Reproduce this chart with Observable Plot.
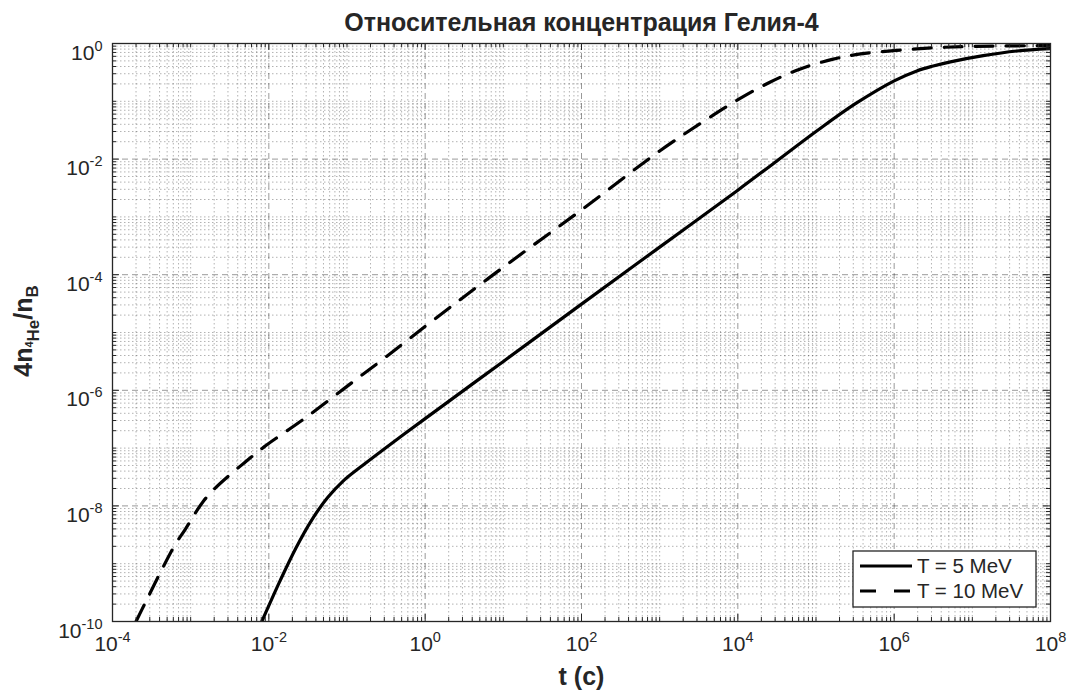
<!DOCTYPE html>
<html><head><meta charset="utf-8">
<script src="https://cdn.jsdelivr.net/npm/d3@7"></script>
<script src="https://cdn.jsdelivr.net/npm/@observablehq/plot@0.6"></script>
<style>
body{margin:0;background:#fff;}
#chart svg{font-family:"Liberation Sans",Arial,Helvetica,sans-serif;}
</style>
</head><body><div id="chart"></div>
<script>
// ---- data ----
const titleText = "Относительная концентрация Гелия-4";
const xLabelText = "t (c)";
const seriesNames = ["T = 5 MeV", "T = 10 MeV"];

// T = 5 MeV (solid)
const t5 = [8.13e-3, 1.41e-2, 2.24e-2, 3.55e-2, 5.62e-2, 8.91e-2, 0.158, 0.398, 1, 10, 100, 1000, 1e4, 3.16e4, 1e5, 3.16e5, 1e6, 1.95e6, 3.16e6, 5.25e6, 1.38e7, 3.72e7, 1e8];
const y5 = [1.0e-10, 5.25e-10, 1.91e-9, 5.75e-9, 1.38e-8, 2.69e-8, 5.0e-8, 1.29e-7, 3.24e-7, 3.16e-6, 3.1e-5, 3.0e-4, 2.9e-3, 9.3e-3, 3.0e-2, 9.0e-2, 0.226, 0.336, 0.408, 0.482, 0.617, 0.741, 0.813];

// T = 10 MeV (dashed)
const t10 = [2.0e-4, 2.64e-4, 4.11e-4, 6.4e-4, 8.57e-4, 1.10e-3, 1.47e-3, 2.0e-3, 2.95e-3, 5.0e-3, 8.7e-3, 2.82e-2, 0.1, 0.316, 1.29, 10, 100, 1000, 4.68e3, 1.07e4, 2.57e4, 6.31e4, 1.66e5, 3.72e5, 1.07e6, 3.16e6, 8.51e6, 1e8];
const y10 = [1.0e-10, 2.14e-10, 7.1e-10, 2.19e-9, 3.98e-9, 6.9e-9, 1.23e-8, 1.95e-8, 3.16e-8, 5.75e-8, 1.05e-7, 3.2e-7, 1.17e-6, 3.8e-6, 1.66e-5, 1.35e-4, 1.32e-3, 1.38e-2, 5.6e-2, 0.112, 0.214, 0.363, 0.537, 0.661, 0.759, 0.841, 0.887, 0.923];

// labelled (major) ticks
const xTicks = [1e-4, 1e-2, 1, 1e2, 1e4, 1e6, 1e8];
const yTicks = [1e-10, 1e-8, 1e-6, 1e-4, 1e-2, 1];
const xDomain = [1e-4, 1e8];
const yDomain = [1e-10, 1];

// ---- layout ----
const W = 1070, H = 693, mL = 112, mR = 20, mT = 43, mB = 72;
const fw = W - mL - mR, fh = H - mT - mB;
const ink = "#262626";

const isMajor = (v, majors) => majors.some(m => Math.abs(Math.log10(v) - Math.log10(m)) < 1e-9);
const xMinor = d3.scaleLog().domain(xDomain).ticks(30).filter(v => !isMajor(v, xTicks));
const yMinor = d3.scaleLog().domain(yDomain).ticks(30).filter(v => !isMajor(v, yTicks));

const rows5 = t5.map((t, i) => ({t, y: y5[i], s: seriesNames[0]}));
const rows10 = t10.map((t, i) => ({t, y: y10[i], s: seriesNames[1]}));

const majLen = 7, minLen = 4;
const tickStyle = {stroke: ink, strokeWidth: 1};
const expFormat = d => String(Math.round(Math.log10(d)));

const plot = Plot.plot({
  width: W, height: H,
  marginLeft: mL, marginRight: mR, marginTop: mT, marginBottom: mB,
  style: {fontSize: "21px", fontFamily: "Liberation Sans, Arial, sans-serif", color: ink, background: "white", overflow: "visible"},
  x: {type: "log", domain: xDomain, ticks: xTicks, tickFormat: expFormat, tickSize: 0, tickPadding: 15, label: null},
  y: {type: "log", domain: yDomain, ticks: yTicks, tickFormat: expFormat, tickSize: 0, tickPadding: 10, label: null},
  marks: [
    // minor grid (dotted)
    Plot.gridX(xMinor, {stroke: "#000", strokeOpacity: 0.3, strokeDasharray: "1.5,2.5", strokeWidth: 1}),
    Plot.gridY(yMinor, {stroke: "#000", strokeOpacity: 0.3, strokeDasharray: "1.5,2.5", strokeWidth: 1}),
    // major grid (dashed)
    Plot.gridX(xTicks, {stroke: "#000", strokeOpacity: 0.4, strokeDasharray: "6,4", strokeWidth: 1}),
    Plot.gridY(yTicks, {stroke: "#000", strokeOpacity: 0.4, strokeDasharray: "6,4", strokeWidth: 1}),
    // data
    Plot.line(rows5, {x: "t", y: "y", stroke: "#000", strokeWidth: 3.2, curve: "catmull-rom", clip: true}),
    Plot.line(rows10, {x: "t", y: "y", stroke: "#000", strokeWidth: 3.2, strokeDasharray: "18,13", curve: "catmull-rom", clip: true}),
    // inward ticks on all four sides
    Plot.ruleX(xTicks, {...tickStyle, insetTop: fh - majLen}),
    Plot.ruleX(xTicks, {...tickStyle, insetBottom: fh - majLen}),
    Plot.ruleX(xMinor, {...tickStyle, insetTop: fh - minLen}),
    Plot.ruleX(xMinor, {...tickStyle, insetBottom: fh - minLen}),
    Plot.ruleY(yTicks, {...tickStyle, insetRight: fw - majLen}),
    Plot.ruleY(yTicks, {...tickStyle, insetLeft: fw - majLen}),
    Plot.ruleY(yMinor, {...tickStyle, insetRight: fw - minLen}),
    Plot.ruleY(yMinor, {...tickStyle, insetLeft: fw - minLen}),
    Plot.frame({stroke: ink, strokeWidth: 1.3}),
    // title and x label
    Plot.text([titleText], {frameAnchor: "top", dy: -30, fontWeight: "bold", fontSize: 25, fill: ink}),
    Plot.text([xLabelText], {frameAnchor: "bottom", dy: 63, fontWeight: "bold", fontSize: 25, fill: ink})
  ]
});

document.getElementById("chart").appendChild(plot);
const svg = d3.select(plot);

// tick labels as 10 with a superscript exponent
function supify(sel, supDy) {
  sel.each(function() {
    const exp = this.textContent;
    const t = d3.select(this);
    t.text(null);
    t.append("tspan").text("10");
    t.append("tspan").attr("font-size", 14.5).attr("dy", supDy).text(exp);
  });
}
supify(svg.selectAll('g[aria-label="x-axis tick label"] text'), -9);
supify(svg.selectAll('g[aria-label="y-axis tick label"] text').attr("dy", "0.45em"), -9);

// y label: 4n_{4He}/n_B
const yl = svg.append("text")
  .attr("transform", `translate(32,${mT + fh / 2 - 1}) rotate(-90)`)
  .attr("text-anchor", "middle")
  .attr("font-weight", "bold").attr("font-size", 25).attr("fill", ink);
yl.append("tspan").text("4n");
yl.append("tspan").attr("font-size", 11).attr("dy", 1).text("4");
yl.append("tspan").attr("font-size", 17).attr("dy", 6).text("He");
yl.append("tspan").attr("font-size", 25).attr("dy", -7).text("/n");
yl.append("tspan").attr("font-size", 17).attr("dy", 6).text("B");

// legend box (bottom-right, inside frame)
const lg = svg.append("g").attr("aria-label", "legend").attr("text-anchor", "start");
const lx0 = 853, ly0 = 551, lx1 = 1036, ly1 = 607;
lg.append("rect").attr("x", lx0).attr("y", ly0).attr("width", lx1 - lx0).attr("height", ly1 - ly0)
  .attr("fill", "white").attr("stroke", ink).attr("stroke-width", 1.3);
const entries = [{name: seriesNames[0], dash: null, y: 566}, {name: seriesNames[1], dash: "16,18", y: 591}];
for (const e of entries) {
  lg.append("line").attr("x1", 860).attr("x2", 912).attr("y1", e.y).attr("y2", e.y)
    .attr("stroke", "#000").attr("stroke-width", 3.2).attr("stroke-dasharray", e.dash);
  lg.append("text").attr("x", 917).attr("y", e.y).attr("dy", "0.36em").attr("text-anchor", "start")
    .attr("font-size", 20.5).attr("fill", ink).text(e.name);
}
</script>
</body></html>
